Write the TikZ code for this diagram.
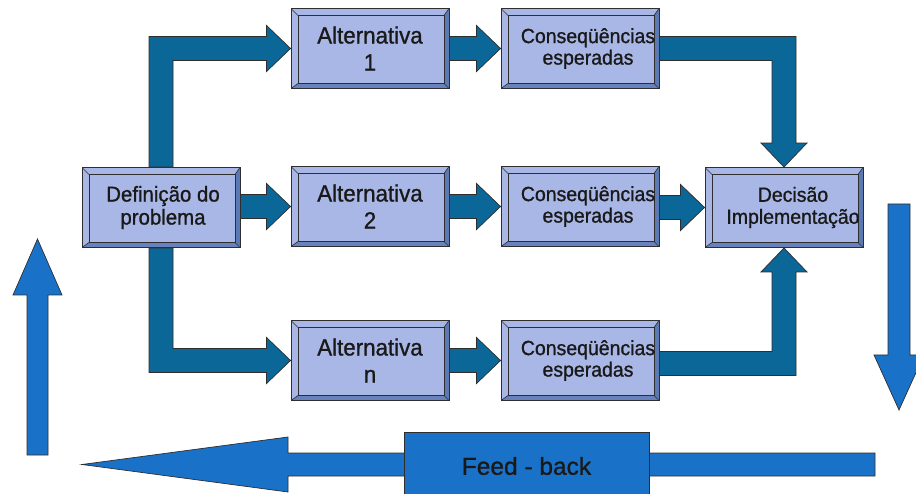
\documentclass[tikz,border=0pt]{standalone}
\usepackage{fontspec}
\setmainfont{Liberation Sans}[FakeBold=1]
\newfontfamily\boxfont{Liberation Sans}[FakeStretch=0.95, FakeBold=1]
\usetikzlibrary{calc}

\definecolor{boxface}{HTML}{A9B7E6}
\definecolor{boxshade}{HTML}{5B79B5}
\definecolor{edgegray}{HTML}{2E2E2E}
\definecolor{flowteal}{HTML}{0B6797}
\definecolor{loopblue}{HTML}{1A72C8}

\newcommand\padl{\hspace*{16pt}}

\tikzset{
  bevelbox/.style={rectangle, draw=edgegray, line width=0.9pt, fill=boxface,
    minimum width=158pt, minimum height=80pt, inner sep=0pt, align=center,
    text=black!90,
    path picture={
      \path (path picture bounding box.south west) coordinate (bSW)
            (path picture bounding box.north east) coordinate (bNE);
      \coordinate (bSE) at (bNE |- bSW);
      \coordinate (bNW) at (bSW |- bNE);
      \coordinate (iSW) at ($(bSW)+(7pt,5pt)$);
      \coordinate (iNE) at ($(bNE)+(-5pt,-7pt)$);
      \coordinate (iSE) at ($(bSE)+(-5pt,5pt)$);
      \coordinate (iNW) at ($(bNW)+(7pt,-7pt)$);
      \fill[boxshade] (bNE) -- (bSE) -- (iSE) -- (iNE) -- cycle;
      \fill[boxshade!85!boxface] (bSW) -- (bSE) -- (iSE) -- (iSW) -- cycle;
      \draw[edgegray, line width=0.8pt] (iSW) rectangle (iNE);
      \draw[edgegray, line width=0.6pt] (bNW) -- (iNW) (bNE) -- (iNE)
            (bSE) -- (iSE) (bSW) -- (iSW);
    }},
  altfont/.style={font=\boxfont\fontsize{23.5}{27}\selectfont},
  deffont/.style={font=\boxfont\fontsize{21.5}{23}\selectfont},
  consfont/.style={font=\boxfont\fontsize{20.5}{21.5}\selectfont},
  decfont/.style={font=\boxfont\fontsize{20.5}{22}\selectfont},
  tealarrow/.style={fill=flowteal, draw=edgegray, line width=0.7pt, line join=miter},
  looparrow/.style={fill=loopblue, draw=edgegray, line width=0.7pt, line join=miter},
}

\begin{document}
\begin{tikzpicture}[x=1pt, y=-1pt]
\useasboundingbox (0,0) rectangle (916,494);
\clip (0,0) rectangle (916,494);

% decision boxes
\node[bevelbox, deffont]  (def)   at (161,207.5) {\hspace*{4pt}Definição do\\\hspace*{4pt}problema};
\node[bevelbox, altfont]  (alt1)  at (370,48.5)  {Alternativa\\1};
\node[bevelbox, altfont]  (alt2)  at (370,206.5) {Alternativa\\2};
\node[bevelbox, altfont]  (altn)  at (370,360.5) {Alternativa\\n};
\node[bevelbox, consfont] (cons1) at (580,48.5)  {\padl Conseqüências\\\padl esperadas};
\node[bevelbox, consfont] (cons2) at (580,206.5) {\padl Conseqüências\\\padl esperadas};
\node[bevelbox, consfont] (consn) at (580,360.5) {\padl Conseqüências\\\padl esperadas};
\node[bevelbox, decfont]  (dec)   at (784,207.5) {\hspace*{18pt}Decisão\\\hspace*{18pt}Implementação};

% flow arrows: shaft half width 12, head half width 23, head length 24
\def\sw{12} \def\hw{23} \def\hl{24}

% definição -> alternativa 1 (up, then right)
\coordinate (c1) at (def.north |- alt1.west);
\filldraw[tealarrow] ($(def.north)+(-\sw,0)$) -- ($(c1)+(-\sw,-\sw)$)
  -- ($(alt1.west)+(-\hl,-\sw)$) -- ($(alt1.west)+(-\hl,-\hw)$) -- (alt1.west)
  -- ($(alt1.west)+(-\hl,\hw)$) -- ($(alt1.west)+(-\hl,\sw)$)
  -- ($(c1)+(\sw,\sw)$) -- ($(def.north)+(\sw,0)$) -- cycle;

% definição -> alternativa n (down, then right)
\coordinate (c2) at (def.south |- altn.west);
\filldraw[tealarrow] ($(def.south)+(-\sw,0)$) -- ($(c2)+(-\sw,\sw)$)
  -- ($(altn.west)+(-\hl,\sw)$) -- ($(altn.west)+(-\hl,\hw)$) -- (altn.west)
  -- ($(altn.west)+(-\hl,-\hw)$) -- ($(altn.west)+(-\hl,-\sw)$)
  -- ($(c2)+(\sw,-\sw)$) -- ($(def.south)+(\sw,0)$) -- cycle;

% straight arrows
\foreach \a/\b in {def/alt2, alt1/cons1, alt2/cons2, altn/consn, cons2/dec}{
  \filldraw[tealarrow] ($(\a.east |- \b.west)+(0,-\sw)$)
    -- ($(\b.west)+(-\hl,-\sw)$) -- ($(\b.west)+(-\hl,-\hw)$) -- (\b.west)
    -- ($(\b.west)+(-\hl,\hw)$) -- ($(\b.west)+(-\hl,\sw)$)
    -- ($(\a.east |- \b.west)+(0,\sw)$) -- cycle;
}

% consequências 1 -> decisão (right, then down)
\coordinate (c3) at (dec.north |- cons1.east);
\filldraw[tealarrow] ($(cons1.east)+(0,-\sw)$) -- ($(c3)+(\sw,-\sw)$)
  -- ($(dec.north)+(\sw,-\hl)$) -- ($(dec.north)+(\hw,-\hl)$) -- (dec.north)
  -- ($(dec.north)+(-\hw,-\hl)$) -- ($(dec.north)+(-\sw,-\hl)$)
  -- ($(c3)+(-\sw,\sw)$) -- ($(cons1.east)+(0,\sw)$) -- cycle;

% consequências n -> decisão (right, then up)
\coordinate (c4) at ($(dec.south |- consn.east)+(0,3)$);
\filldraw[tealarrow] ($(consn.east |- c4)+(0,\sw)$) -- ($(c4)+(\sw,\sw)$)
  -- ($(dec.south)+(\sw,\hl)$) -- ($(dec.south)+(\hw,\hl)$) -- (dec.south)
  -- ($(dec.south)+(-\hw,\hl)$) -- ($(dec.south)+(-\sw,\hl)$)
  -- ($(c4)+(-\sw,-\sw)$) -- ($(consn.east |- c4)+(0,-\sw)$) -- cycle;

% feedback loop
\coordinate (upB) at (37.5,455);  \coordinate (upT) at (37.5,239);
\coordinate (dnT) at (899,204);   \coordinate (dnB) at (899,410);
\coordinate (fbR) at (875,464.5); \coordinate (fbL) at (82,464.5);

\filldraw[looparrow] ($(upB)+(-10.5,0)$) -- ($(upT)+(-10.5,56)$) -- ($(upT)+(-24.5,56)$)
  -- (upT) -- ($(upT)+(24.5,56)$) -- ($(upT)+(10.5,56)$) -- ($(upB)+(10.5,0)$) -- cycle;

\filldraw[looparrow] ($(dnT)+(-11,0)$) -- ($(dnB)+(-11,-55)$) -- ($(dnB)+(-25,-55)$)
  -- (dnB) -- ($(dnB)+(25,-55)$) -- ($(dnB)+(11,-55)$) -- ($(dnT)+(11,0)$) -- cycle;

\filldraw[looparrow] ($(fbR)+(0,-11.5)$) -- ($(fbL)+(206,-11.5)$) -- ($(fbL)+(206,-27.5)$)
  -- (fbL) -- ($(fbL)+(206,27.5)$) -- ($(fbL)+(206,11.5)$) -- ($(fbR)+(0,11.5)$) -- cycle;

\node[rectangle, fill=loopblue, draw=edgegray, line width=0.8pt,
      minimum width=245pt, minimum height=68pt, inner sep=0pt,
      font=\fontsize{24.5}{27}\selectfont, text=black!90] (fb) at (526.5,466) {Feed - back};
\end{tikzpicture}
\end{document}
